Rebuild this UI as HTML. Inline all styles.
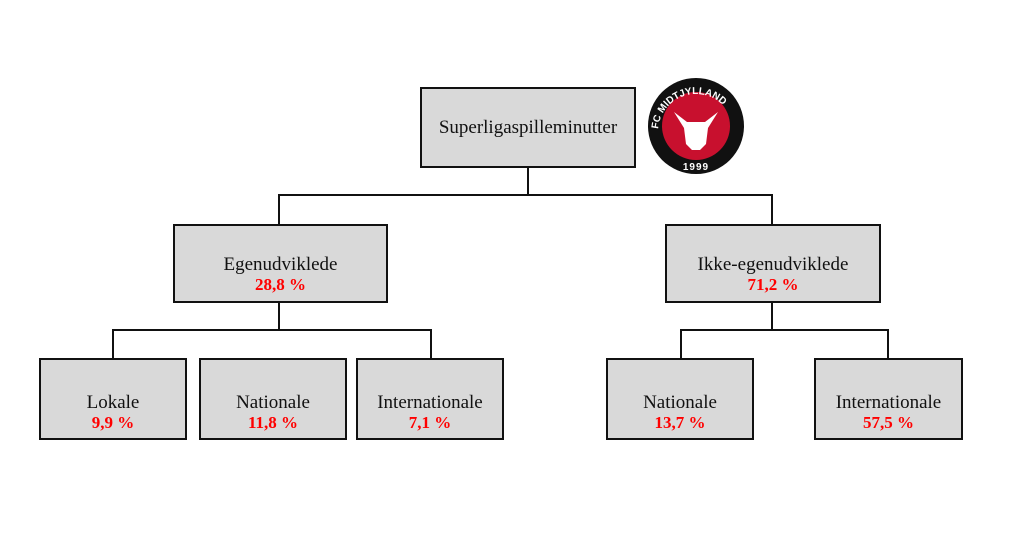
<!DOCTYPE html>
<html><head><meta charset="utf-8"><style>
body{margin:0;width:1023px;height:533px;background:#fff;position:relative;overflow:hidden;font-family:"Liberation Serif",serif}
.b{position:absolute;box-sizing:border-box;border:2px solid #111;background:#d9d9d9;display:flex;flex-direction:column;align-items:center;justify-content:center;font-size:19px;color:#111;line-height:21px}
.r{color:#f00;font-weight:bold;font-size:17px;line-height:19px}
.l{position:absolute;background:#111}
</style></head><body>
<div class="b" style="left:420px;top:87px;width:216px;height:81px">Superligaspilleminutter</div>
<div class="b" style="left:173px;top:224px;width:215px;height:79px;padding-top:20px">Egenudviklede<span class="r">28,8 %</span></div>
<div class="b" style="left:665px;top:224px;width:216px;height:79px;padding-top:20px">Ikke-egenudviklede<span class="r">71,2 %</span></div>
<div class="b" style="left:39px;top:358px;width:148px;height:82px;padding-top:26px">Lokale<span class="r">9,9 %</span></div>
<div class="b" style="left:199px;top:358px;width:148px;height:82px;padding-top:26px">Nationale<span class="r">11,8 %</span></div>
<div class="b" style="left:356px;top:358px;width:148px;height:82px;padding-top:26px">Internationale<span class="r">7,1 %</span></div>
<div class="b" style="left:606px;top:358px;width:148px;height:82px;padding-top:26px">Nationale<span class="r">13,7 %</span></div>
<div class="b" style="left:814px;top:358px;width:149px;height:82px;padding-top:26px">Internationale<span class="r">57,5 %</span></div>
<div class="l" style="left:527px;top:167px;width:2px;height:29px"></div>
<div class="l" style="left:278px;top:194px;width:495px;height:2px"></div>
<div class="l" style="left:278px;top:194px;width:2px;height:31px"></div>
<div class="l" style="left:771px;top:194px;width:2px;height:31px"></div>
<div class="l" style="left:278px;top:302px;width:2px;height:29px"></div>
<div class="l" style="left:112px;top:329px;width:320px;height:2px"></div>
<div class="l" style="left:112px;top:329px;width:2px;height:30px"></div>
<div class="l" style="left:430px;top:329px;width:2px;height:30px"></div>
<div class="l" style="left:771px;top:302px;width:2px;height:29px"></div>
<div class="l" style="left:680px;top:329px;width:209px;height:2px"></div>
<div class="l" style="left:680px;top:329px;width:2px;height:30px"></div>
<div class="l" style="left:887px;top:329px;width:2px;height:30px"></div>
<svg style="position:absolute;left:646px;top:76px" width="100" height="100" viewBox="0 0 100 100">
<circle cx="50" cy="50" r="48" fill="#111"/>
<circle cx="50" cy="50" r="34" fill="#c8102e"/>
<path id="arc" d="M12,56 A38,38 0 1 1 88,56" fill="none"/>
<text font-family="Liberation Sans,sans-serif" font-weight="bold" font-size="10" fill="#fff"><textPath href="#arc" startOffset="3">FC MIDTJYLLAND</textPath></text>
<text x="50" y="94" text-anchor="middle" font-family="Liberation Sans,sans-serif" font-weight="bold" font-size="10" fill="#fff" letter-spacing="1">1999</text>
<path d="M28,36 L41,46 L59,46 L72,36 L62,52 L60,68 L54,74 L46,74 L40,68 L38,52 Z" fill="#fff"/>
</svg>
</body></html>
